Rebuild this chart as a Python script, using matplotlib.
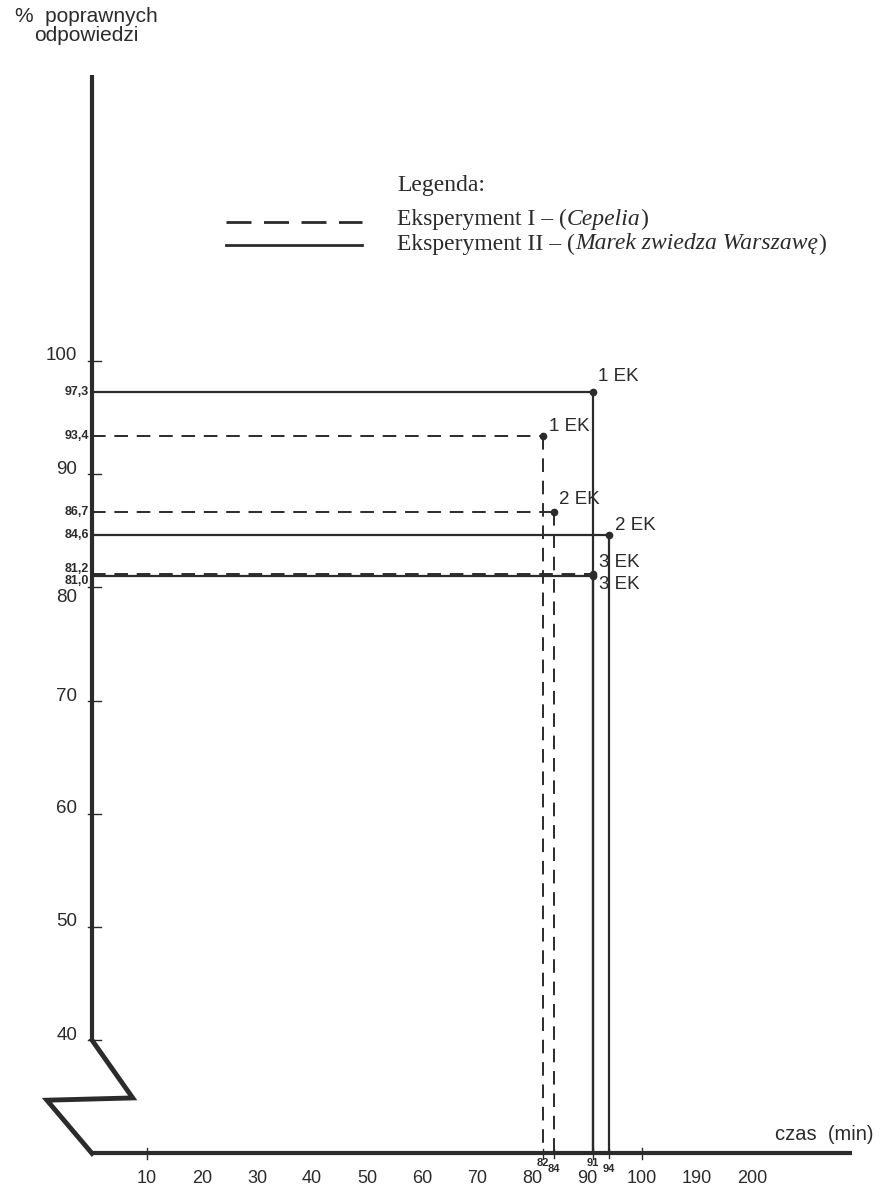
import matplotlib
matplotlib.use("Agg")
import matplotlib.pyplot as plt

# ==== Data ====
exp1_time = [82, 84, 91]          # Eksperyment I (dashed)
exp1_pct = [93.4, 86.7, 81.2]
exp1_lbl = ["1 EK", "2 EK", "3 EK"]

exp2_time = [91, 94, 91]          # Eksperyment II (solid)
exp2_pct = [97.3, 84.6, 81.0]
exp2_lbl = ["1 EK", "2 EK", "3 EK"]

y_ticks = [40, 50, 60, 70, 80, 90, 100]
x_ticks = [10, 20, 30, 40, 50, 60, 70, 80, 90, 100, 110, 120]
x_tick_labels = ["10", "20", "30", "40", "50", "60", "70", "80", "90", "100", "190", "200"]
value_labels = ["97,3", "93,4", "86,7", "84,6", "81,2", "81,0"]
value_levels = [97.3, 93.4, 86.7, 84.6, 81.2, 81.0]
time_marks = [82, 84, 91, 94]

# axis break (zigzag) in data units
break_x = [0, 7.4, -8.2, 0]
break_y = [40, 34.9, 34.7, 30]

SANS = "Liberation Sans"
SERIF = "Liberation Serif"
INK = "#2b2b2b"
PX = "offset pixels"

fig = plt.figure(figsize=(8.95, 11.92), dpi=100)
ax = fig.add_axes([0, 0, 1, 1])
ax.set_xlim(-16.73, 146.0)
ax.set_ylim(26.59, 131.89)
ax.axis("off")

# axes
ax.plot([0, 0], [40, 125.3], color=INK, lw=3, solid_capstyle="butt")
ax.plot([0, 138.2], [30, 30], color=INK, lw=3, solid_capstyle="butt")
ax.plot(break_x, break_y, color=INK, lw=3.5, solid_joinstyle="miter")

# y ticks
y_lbl_dy = [5, 5, 5, 4, -10, 5, 5]
for v, dy in zip(y_ticks, y_lbl_dy):
    ax.plot([-0.7, 1.6], [v, v], color=INK, lw=1)
    ax.annotate(str(v), (0, v), xytext=(-15, dy), textcoords=PX,
                ha="right", va="center", fontsize=13.5, family=SANS, color=INK)
value_dy = [0, 0, 0, 0, 5, -5]
for lbl, v, dy in zip(value_labels, value_levels, value_dy):
    ax.annotate(lbl, (0, v), xytext=(-3, dy), textcoords=PX,
                ha="right", va="center", fontsize=9, family=SANS, color=INK,
                weight="bold")

# x ticks
for v, lbl in zip(x_ticks, x_tick_labels):
    if v in (10, 100):
        ax.plot([v, v], [29.5, 30.5], color=INK, lw=1)
    ax.annotate(lbl, (v, 30), xytext=(0, -25), textcoords=PX,
                ha="center", va="center", fontsize=13, family=SANS, color=INK)
for i, v in enumerate(time_marks):
    ax.plot([v, v], [29.6, 30.4], color=INK, lw=1)
    dy = -10 if i % 2 == 0 else -16
    ax.annotate(str(v), (v, 30), xytext=(0, dy), textcoords=PX,
                ha="center", va="center", fontsize=8, family=SANS, color=INK,
                weight="bold")

# experiment I - dashed
for t, p in zip(exp1_time, exp1_pct):
    ax.plot([0, t], [p, p], color=INK, lw=1.4, ls=(0, (7, 4.5)))
    ax.plot([t, t], [p, 30], color=INK, lw=1.4, ls=(0, (7, 4.5)))
ax.plot(exp1_time, exp1_pct, ls="none", marker="o", ms=4.5, color=INK)

# experiment II - solid
for t, p in zip(exp2_time, exp2_pct):
    ax.plot([0, t], [p, p], color=INK, lw=1.6)
    ax.plot([t, t], [p, 30], color=INK, lw=1.6)
ax.plot(exp2_time, exp2_pct, ls="none", marker="o", ms=4.5, color=INK)

# point labels
exp1_off = [(6, 9), (5, 12), (6, 11)]
exp2_off = [(5, 15), (6, 10), (6, -8)]
for t, p, lbl, off in zip(exp1_time, exp1_pct, exp1_lbl, exp1_off):
    ax.annotate(lbl, (t, p), xytext=off, textcoords=PX,
                ha="left", va="center", fontsize=13.5, family=SANS, color=INK)
for t, p, lbl, off in zip(exp2_time, exp2_pct, exp2_lbl, exp2_off):
    ax.annotate(lbl, (t, p), xytext=off, textcoords=PX,
                ha="left", va="center", fontsize=13.5, family=SANS, color=INK)

# axis titles
fig.text(86 / 895, 1 - 26 / 1192, "%  poprawnych\nodpowiedzi", ha="center", va="center",
         fontsize=15, family=SANS, color=INK, linespacing=1.0)
fig.text(775 / 895, 1 - 1134 / 1192, "czas  (min)", ha="left", va="center",
         fontsize=14.5, family=SANS, color=INK)

# legend
fig.text(397 / 895, 1 - 186 / 1192, "Legenda:", ha="left", va="center",
         fontsize=17, family=SERIF, color=INK)
fig.add_artist(plt.Line2D([226 / 895, 362 / 895], [1 - 222 / 1192] * 2,
                          color=INK, lw=2, ls=(0, (9, 4.5))))
fig.add_artist(plt.Line2D([226 / 895, 362 / 895], [1 - 245 / 1192] * 2,
                          color=INK, lw=2))

def mixed_text(x, y, parts):
    renderer = fig.canvas.get_renderer()
    for s, style in parts:
        t = fig.text(x, y, s, ha="left", va="center", fontsize=17,
                     family=SERIF, style=style, color=INK)
        bb = t.get_window_extent(renderer)
        x = x + bb.width / fig.bbox.width

mixed_text(397 / 895, 1 - 219 / 1192,
           [("Eksperyment I – (", "normal"), ("Cepelia", "italic"), (")", "normal")])
mixed_text(397 / 895, 1 - 244 / 1192,
           [("Eksperyment II – (", "normal"), ("Marek zwiedza Warszawę", "italic"),
            (")", "normal")])

fig.savefig("out.png", dpi=100)
